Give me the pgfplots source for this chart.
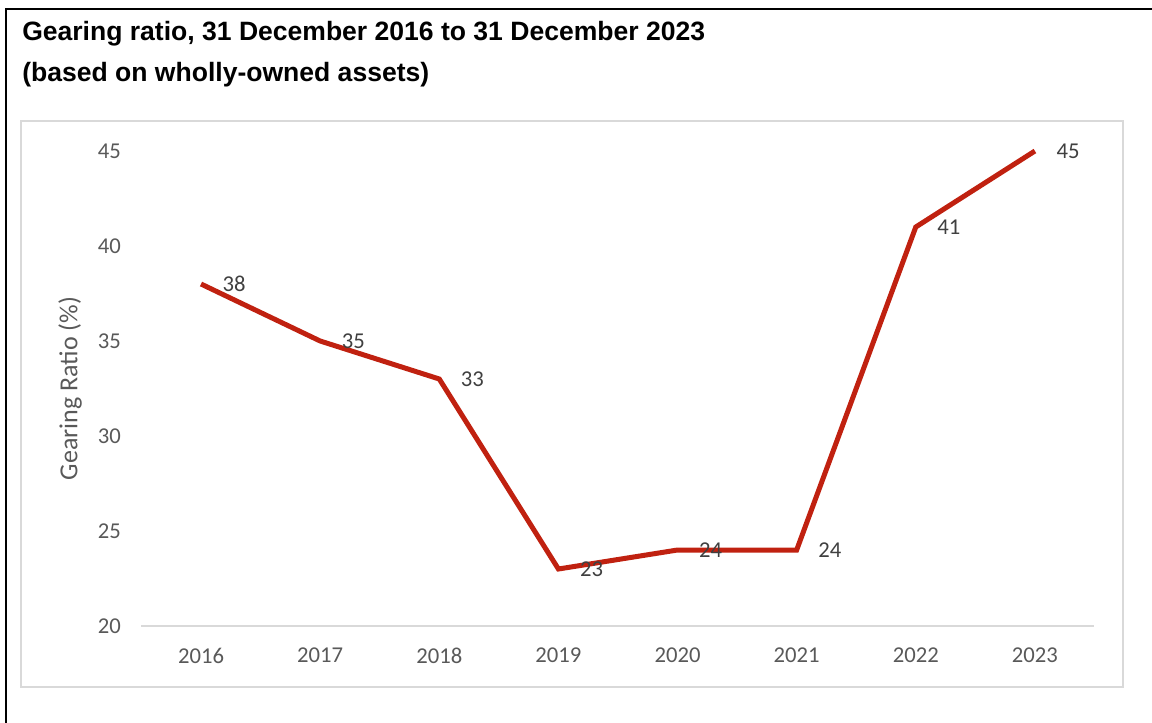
\documentclass[border=0pt]{standalone}
\usepackage{pgfplots}
\pgfplotsset{compat=1.18}
\usepackage{fontspec}
\setmainfont{Carlito}
\newfontfamily\titlefont{Liberation Sans}

\definecolor{linered}{RGB}{192,33,16}
\definecolor{ticktext}{RGB}{89,89,89}
\definecolor{labeltext}{RGB}{64,64,64}
\definecolor{framegray}{RGB}{217,217,217}

\begin{document}
\begin{tikzpicture}[x=0.75pt,y=0.75pt]
\path[use as bounding box] (0,0) rectangle (1152,722);
% outer frame, only top and left visible
\draw[black, line width=1.9pt] (6,-5) -- (6,713) -- (1160,713);
% chart area
\draw[framegray, line width=1.1pt] (21,35) rectangle (1123,601);
% title
\node[anchor=base west, inner sep=0pt, font=\titlefont\bfseries\fontsize{19.9}{24}\selectfont] at (22,681) {Gearing ratio, 31 December 2016 to 31 December 2023};
\node[anchor=base west, inner sep=0pt, font=\titlefont\bfseries\fontsize{19.9}{24}\selectfont] at (22,640) {(based on wholly-owned assets)};

\begin{axis}[
  at={(106.1pt,72pt)}, anchor=south west,
  width=714.75pt, height=356.25pt, scale only axis,
  xmin=-0.5, xmax=7.5, ymin=20, ymax=45,
  xtick={0,...,7},
  xticklabels={2016,2017,2018,2019,2020,2021,2022,2023},
  ytick={20,25,...,45},
  /pgf/number format/assume math mode=true,
  axis x line*=bottom, axis y line*=left,
  y axis line style={draw=none},
  x axis line style={framegray, line width=1.1pt, -},
  major tick length=0pt,
  tick label style={font=\fontsize{17}{20}\selectfont, text=ticktext},
  yticklabel style={xshift=-12pt},
  xticklabel style={yshift=-13pt},
  ylabel={Gearing Ratio (\%)},
  every axis y label/.style={at={(axis description cs:-0.075,0.5)}, rotate=90, anchor=center,
    font=\fontsize{19.5}{22}\selectfont, text=ticktext},
  clip=false,
  nodes near coords,
  every node near coord/.append style={anchor=west, xshift=11pt,
    font=\fontsize{17}{20}\selectfont, text=labeltext},
]
\addplot[linered, line width=3.75pt, mark=none] coordinates {
  (0,38) (1,35) (2,33) (3,23) (4,24) (5,24) (6,41) (7,45)
};
\end{axis}
\end{tikzpicture}
\end{document}
